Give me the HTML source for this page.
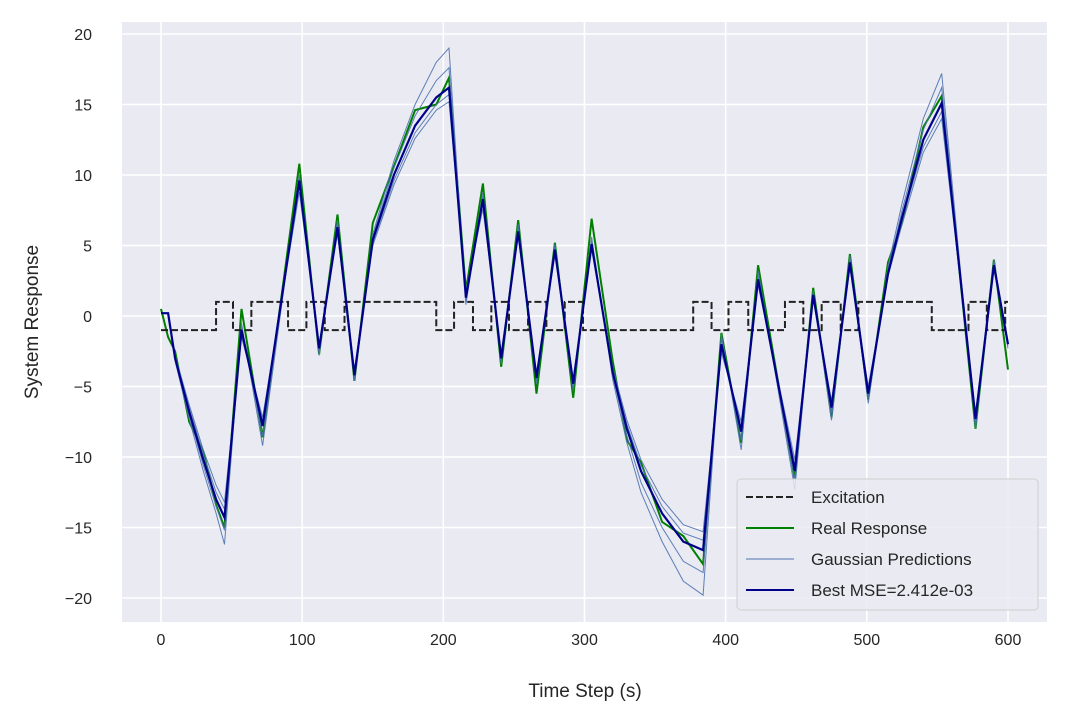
<!DOCTYPE html>
<html><head><meta charset="utf-8"><style>
body{margin:0;background:#fff;}
svg{display:block;font-family:"Liberation Sans","DejaVu Sans",sans-serif;}
</style></head><body>
<svg id="chart" width="1069" height="724">
<rect x="122" y="22" width="925" height="600" fill="#eaeaf2"/>
<g id="grid"></g>
<g id="ticks"></g>
<g id="series"></g>
<text x="585" y="697" text-anchor="middle" font-size="19" fill="#262626">Time Step (s)</text>
<text transform="translate(38,322) rotate(-90)" text-anchor="middle" font-size="19" fill="#262626">System Response</text>
<g>
<rect x="737" y="479" width="301" height="131" rx="4" fill="#eaeaf2" fill-opacity="0.85" stroke="#d0d0d0"/>
<line x1="746" y1="497" x2="794" y2="497" stroke="#222" stroke-width="2" stroke-dasharray="7,3"/>
<text x="811" y="503" font-size="17" fill="#262626">Excitation</text>
<line x1="746" y1="528" x2="794" y2="528" stroke="#008000" stroke-width="2"/>
<text x="811" y="534" font-size="17" fill="#262626">Real Response</text>
<line x1="746" y1="559" x2="794" y2="559" stroke="#4c72b0" stroke-width="1"/>
<text x="811" y="565" font-size="17" fill="#262626">Gaussian Predictions</text>
<line x1="746" y1="590" x2="794" y2="590" stroke="#00008b" stroke-width="2"/>
<text x="811" y="596" font-size="17" fill="#262626">Best MSE=2.412e-03</text>
</g>
</svg>
<script>
const xTicks=[0,100,200,300,400,500,600];
const yTicks=[20,15,10,5,0,-5,-10,-15,-20];
const yTickLabels=["20","15","10","5","0","\u22125","\u221210","\u221215","\u221220"];
const excT=[0,39,51,64,90,103,116,130,195,207.6,221,234,246.5,260,273,286,299,377,390,402,416,442,455,468,481.5,494,546,572,585,598,600];
const excV=[-1,1,-1,1,-1,1,-1,1,-1,1,-1,1,-1,1,-1,1,-1,1,-1,1,-1,1,-1,1,-1,1,-1,1,-1,1,1];
const T=[0,5,10,20,30,39,45,57,72,98,112,125,137,150,165,180,195,204,216,228,241,253,266,279,292,305,320,330,340,355,370,384,397,411,423,449,462,475,488,501,515,525,540,553,577,590,600];
const best=[0.2,0.2,-3,-6.8,-10.2,-13,-14.3,-1,-7.8,9.6,-2.3,6.3,-4.2,5.4,10,13.5,15.5,16.2,1.3,8.3,-3,6,-4.4,4.7,-4.8,5.1,-4,-8,-11,-14,-16,-16.6,-2,-8.2,2.6,-11,1.5,-6.5,3.8,-5.5,3,7,12.5,15.1,-7.3,3.6,-2];
const real=[0.5,-1.5,-2.5,-7.5,-9.6,-13.4,-15,0.5,-8.6,10.8,-2.7,7.2,-4.6,6.6,10.6,14.6,15,16.9,1.8,9.4,-3.6,6.8,-5.5,5.2,-5.8,6.9,-3.2,-8.8,-10.4,-14.6,-15.6,-17.6,-1.2,-9,3.6,-11.6,2,-7.2,4.4,-5.9,3.8,6.6,13.4,15.6,-8,4,-3.8];
const pred1=[0.2,0.2,-3.2,-7.3,-11,-14,-16.2,-0.5,-9.2,10,-2.8,6.8,-4.6,5.8,11,15,18,19,0.8,8.8,-3.4,6.5,-4.8,5.1,-5.3,5.6,-4.5,-9,-12.5,-16,-18.8,-19.8,-1.3,-9.5,3.2,-12.3,1.8,-7.4,4.3,-6.2,3.5,8,14,17.2,-8,4,-2.3];
const pred2=[0.2,0.2,-2.8,-6.3,-9.5,-12,-13.2,-1.5,-7.2,8.8,-2,5.8,-3.8,5,9.3,12.6,14.6,15.2,1.8,7.6,-2.6,5.6,-4,4.3,-4.4,4.7,-3.7,-7.4,-10.2,-13,-14.8,-15.3,-2.6,-7.5,2.2,-10.2,1.2,-6,3.4,-5,2.8,6.5,11.6,14,-6.8,3.3,-1.8];
const pred3=[0.2,0.2,-3.1,-7,-10.6,-13.5,-15.2,-0.8,-8.5,9.8,-2.5,6.5,-4.4,5.6,10.5,14.2,16.7,17.6,1,8.5,-3.2,6.2,-4.6,4.9,-5,5.3,-4.2,-8.5,-11.8,-15,-17.4,-18.2,-1.6,-8.8,2.9,-11.6,1.6,-6.9,4,-5.8,3.2,7.5,13.2,16.2,-7.6,3.8,-2.1];
const pred4=[0.2,0.2,-2.9,-6.5,-9.8,-12.5,-13.7,-1.2,-7.5,9.2,-2.1,6.1,-4,5.2,9.6,13,15,15.7,1.5,8,-2.8,5.8,-4.2,4.5,-4.6,4.9,-3.8,-7.7,-10.6,-13.5,-15.4,-15.9,-2.3,-7.9,2.4,-10.6,1.3,-6.2,3.6,-5.2,2.9,6.8,12,14.5,-7,3.4,-1.9];

const NS='http://www.w3.org/2000/svg';
function xs(t){return 161+t*(1008-161)/600;}
function ys(v){return 316-v*(598-34)/40;}
function mk(tag,attrs,parent){const e=document.createElementNS(NS,tag);for(const k in attrs)e.setAttribute(k,attrs[k]);parent.appendChild(e);return e;}
const grid=document.getElementById('grid'),ticks=document.getElementById('ticks'),ser=document.getElementById('series');
xTicks.forEach(t=>{
  const l=mk('line',{x1:xs(t),x2:xs(t),y1:22,y2:622,stroke:'#fff','stroke-width':1.6},grid);
  
  
  const tx=mk('text',{x:xs(t),y:645,'text-anchor':'middle','font-size':16,fill:'#262626'},ticks);
  tx.textContent=t;
  
  
});
yTicks.forEach((v,i)=>{
  const l=mk('line',{x1:122,x2:1047,y1:ys(v),y2:ys(v),stroke:'#fff','stroke-width':1.6},grid);
  
  
  const tx=mk('text',{x:92,y:ys(v)+6,'text-anchor':'end','font-size':16,fill:'#262626'},ticks);
  tx.textContent=yTickLabels[i];
  
  
});
function pathOf(tt,vv){return tt.map((t,i)=>(i?'L':'M')+xs(t).toFixed(1)+','+ys(vv[i]).toFixed(1)).join(' ');}
// excitation step path
let d='';
for(let i=0;i<excT.length;i++){
  const x=xs(excT[i]);
  if(i===0)d+='M'+x+','+ys(excV[0]);
  else d+=' L'+x+','+ys(excV[i-1])+' L'+x+','+ys(excV[i]);
}
const real_p=mk('path',{d:pathOf(T,real),fill:'none',stroke:'#008000','stroke-width':2},ser);


[pred1,pred2,pred3,pred4].forEach(p=>{
  const e=mk('path',{d:pathOf(T,p),fill:'none',stroke:'#4c72b0','stroke-width':1,'stroke-opacity':0.9},ser);
  
  
});
const ex=mk('path',{d:d,fill:'none',stroke:'#222','stroke-width':2,'stroke-dasharray':'7,3'},ser);


const b=mk('path',{d:pathOf(T,best),fill:'none',stroke:'#00008b','stroke-width':2.2},ser);


</script>
</body></html>
